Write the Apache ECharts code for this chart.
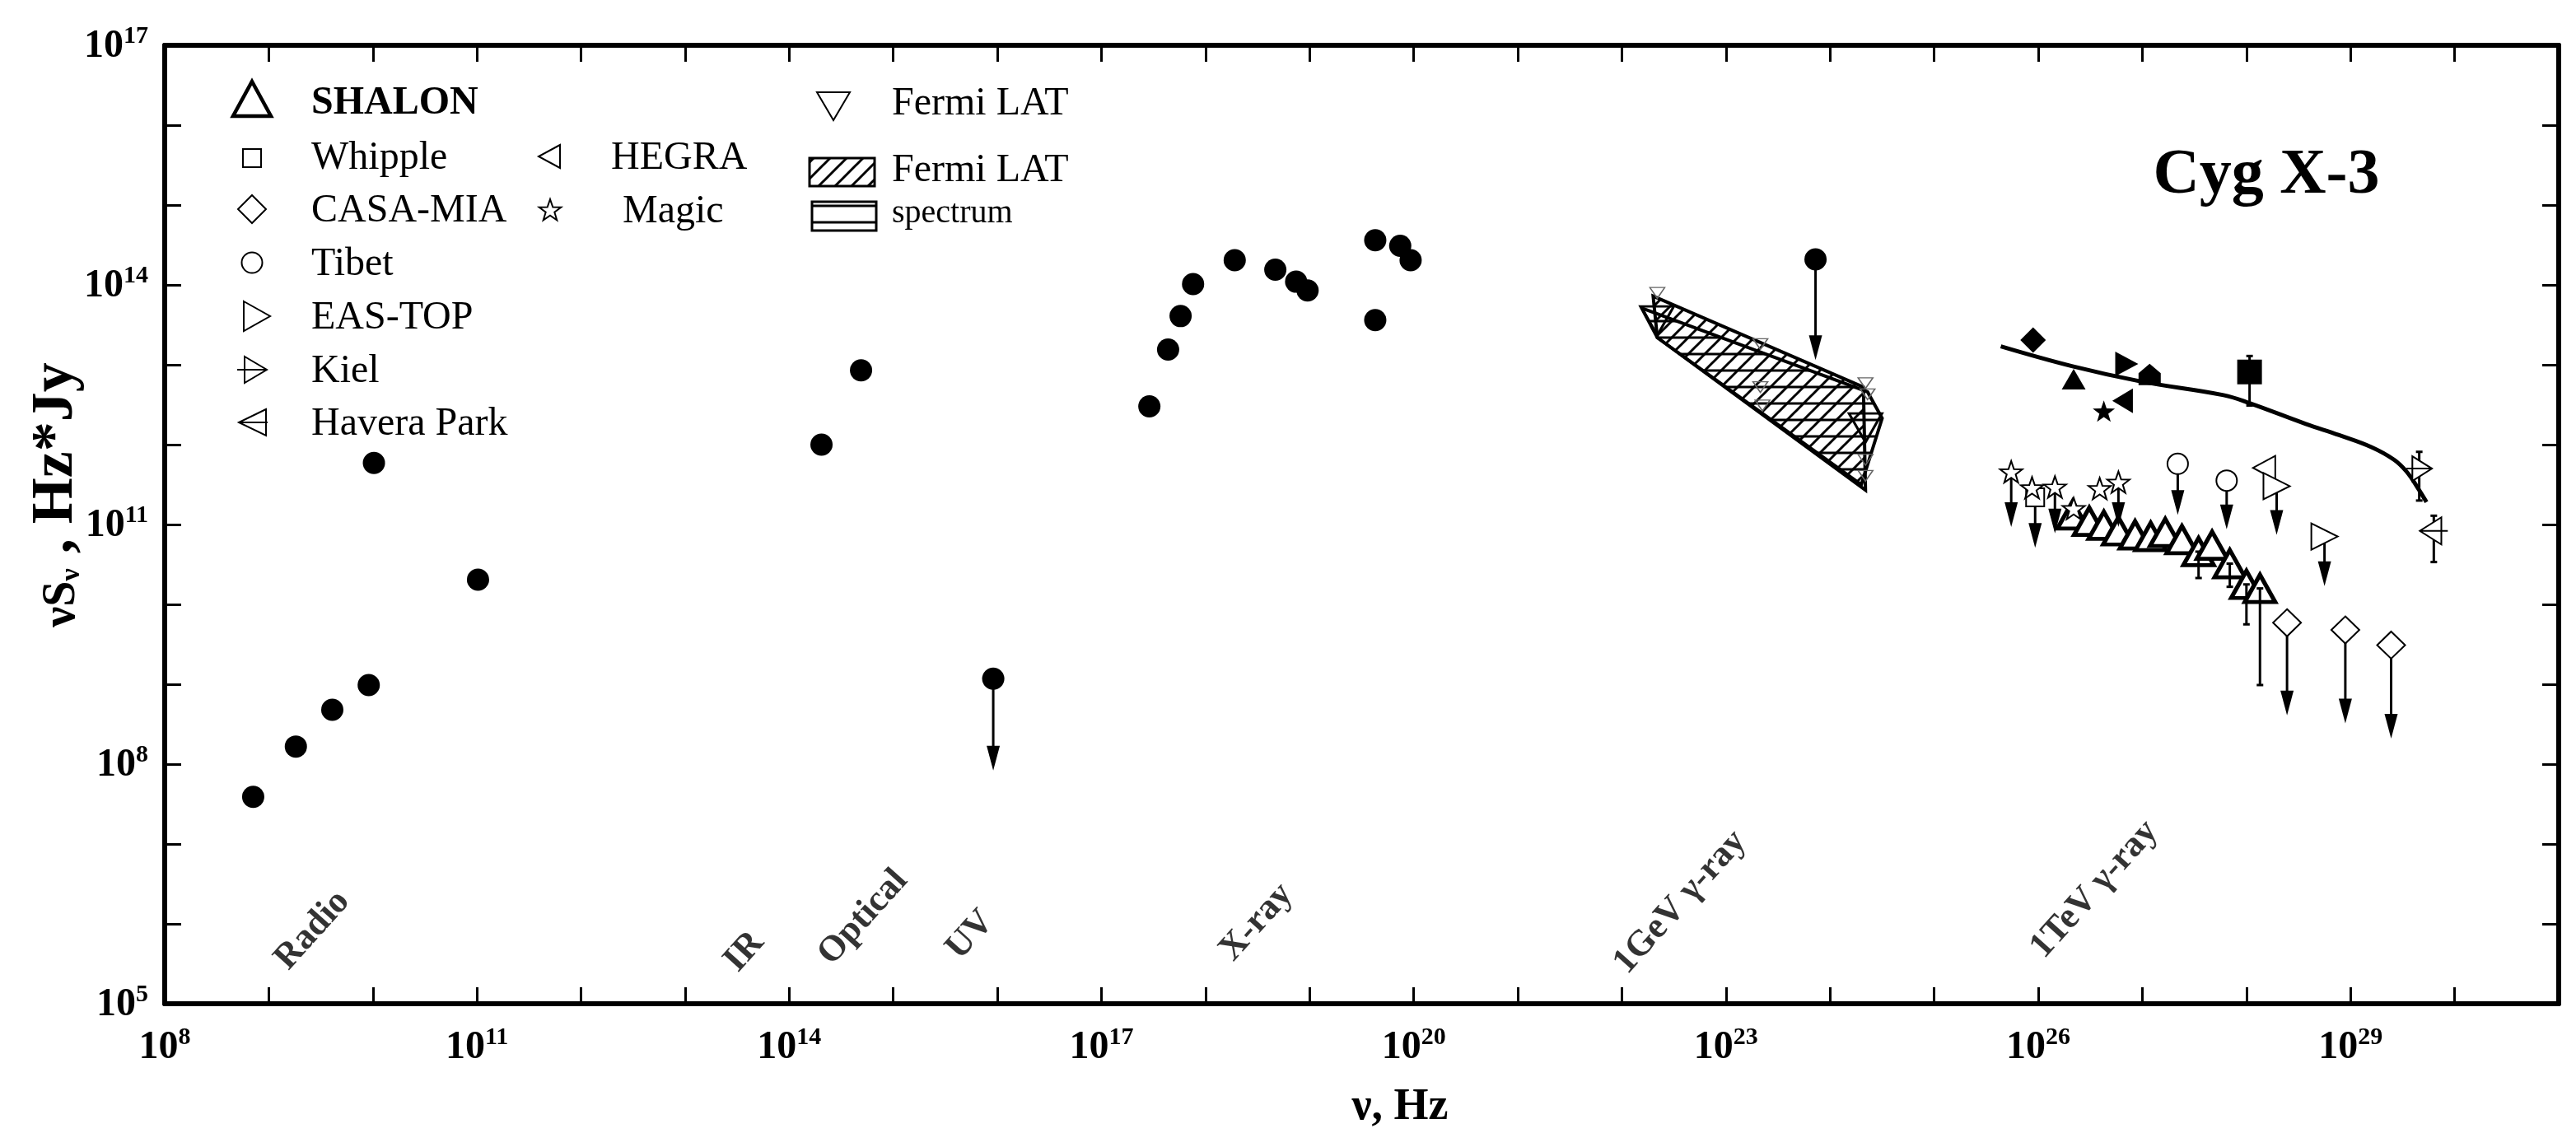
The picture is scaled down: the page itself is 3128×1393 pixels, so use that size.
<!DOCTYPE html>
<html>
<head>
<meta charset="utf-8">
<title>Cyg X-3 SED</title>
<script src="https://cdn.jsdelivr.net/npm/echarts@6/dist/echarts.min.js"></script>
<style>
html, body { margin: 0; padding: 0; background: #fff; }
#sed { width: 3128px; height: 1393px; }
</style>
</head>
<body>
<div id="sed"></div>
<script>
// all values are log10(nu / Hz) and log10(nuS_nu / Hz*Jy)

// radio .. x-ray and the GeV upper limit (filled circles)
var dotNu = [8.85, 9.26, 9.61, 9.96, 10.01, 11.01, 14.31, 14.69, 15.96, 17.46, 17.64, 17.76, 17.88, 18.28, 18.67, 18.87, 18.98, 19.63, 19.63, 19.87, 19.97, 23.86];
var dotFlux = [7.59, 8.22, 8.68, 8.99, 11.77, 10.31, 12.00, 12.93, 9.07, 12.48, 13.19, 13.61, 14.01, 14.31, 14.19, 14.04, 13.93, 14.56, 13.56, 14.49, 14.31, 14.32];

// Fermi LAT
var latBandNu = [22.30, 24.32, 24.34, 22.34];
var latBandFlux = [13.86, 12.72, 11.43, 13.34];
var specBandNu = [22.19, 24.36, 24.50, 24.30, 22.34];
var specBandFlux = [13.71, 12.66, 12.33, 11.50, 13.34];
var fermiNu = [22.34, 23.33, 23.33, 23.35, 24.34, 24.36, 24.34, 24.34];
var fermiFlux = [13.90, 13.26, 12.72, 12.49, 12.77, 12.63, 11.81, 11.61];
var fermiBigNu = [22.34, 24.34];
var fermiBigFlux = [13.55, 12.21];

// TeV model curve
var curveNu = [25.64, 26.33, 26.99, 27.78, 28.03, 28.57, 28.89, 29.20, 29.42, 29.54, 29.65, 29.73];
var curveFlux = [13.23, 12.98, 12.79, 12.62, 12.52, 12.26, 12.12, 11.97, 11.81, 11.66, 11.45, 11.28];

// SHALON
var shalonNu = [26.33, 26.49, 26.63, 26.77, 26.93, 27.08, 27.22, 27.38, 27.54, 27.67, 27.84, 28.00, 28.13];
var shalonFlux = [11.12, 11.04, 10.99, 10.92, 10.87, 10.85, 10.90, 10.81, 10.66, 10.74, 10.51, 10.25, 10.20];
var shalonDetNu = [26.34];
var shalonDetFlux = [12.82];

// other TeV / PeV experiments: detections and upper limits
var whippleDetNu = [28.03], whippleDetFlux = [12.91];
var whippleUlNu = [25.97], whippleUlFlux = [11.34];
var casaDetNu = [25.95], casaDetFlux = [13.31];
var casaUlNu = [28.39, 28.95, 29.39], casaUlFlux = [9.77, 9.68, 9.49];
var tibetDetNu = [27.07], tibetDetFlux = [12.88];
var tibetUlNu = [27.34, 27.81], tibetUlFlux = [11.76, 11.55];
var easDetNu = [26.85], easDetFlux = [13.01];
var easUlNu = [28.29, 28.75], easUlFlux = [11.48, 10.85];
var hegraDetNu = [26.81], hegraDetFlux = [12.55];
var hegraUlNu = [28.17], hegraUlFlux = [11.71];
var magicDetNu = [26.63], magicDetFlux = [12.42];
var magicUlNu = [25.74, 25.94, 26.16, 26.59, 26.77, 26.34];
var magicUlFlux = [11.66, 11.46, 11.47, 11.45, 11.53, 11.20];
var kielNu = [29.66], kielFlux = [11.70];
var haveraNu = [29.80], haveraFlux = [10.92];

// upper-limit arrows: nu, start, tip
var arrowNu = [15.96, 23.86, 25.74, 26.16, 26.77, 25.97, 27.34, 27.81, 28.29, 28.75, 28.39, 28.95, 29.39];
var arrowFrom = [9.07, 14.32, 11.66, 11.47, 11.53, 11.34, 11.76, 11.55, 11.48, 10.85, 9.77, 9.68, 9.49];
var arrowTo = [7.92, 13.06, 10.97, 10.89, 10.97, 10.71, 11.12, 10.94, 10.87, 10.23, 8.61, 8.51, 8.32];

// error bars: nu, low, high
var errNu = [28.03, 29.66, 29.80, 27.54, 27.84, 28.00, 28.13];
var errLo = [12.49, 11.30, 10.53, 10.33, 10.22, 9.75, 8.99];
var errHi = [13.11, 11.91, 11.11, 10.66, 10.51, 10.25, 10.20];

// band names along the bottom
var bandNames = ['Radio', 'IR', 'Optical', 'UV', 'X-ray', '1GeV γ-ray', '1TeV γ-ray'];
var bandNu = [9.42, 13.57, 14.71, 15.74, 18.49, 22.56, 26.54];
var bandFlux = [5.92, 5.65, 6.08, 5.86, 6.02, 6.27, 6.43];

var SERIF = 'Liberation Serif';
var RIGHT = 'path://M0,0L10,5L0,10Z';
var LEFT = 'path://M10,0L0,5L10,10Z';
var DOWN = 'path://M0,0L10,0L5,10Z';
var HOUSE = 'path://M5,0L10,4.5L10,10L0,10L0,4.5Z';
var STAR = 'path://M10,0L12.35,6.76L19.51,6.91L13.8,11.24L15.88,18.09L10,14L4.12,18.09L6.2,11.24L0.49,6.91L7.65,6.76Z';
var KIEL = 'path://M0,0L10,5L0,10Z M-3,5L10,5';
var HAVERA = 'path://M10,0L0,5L10,10Z M0,5L13,5';

function pairs(a, b) {
    return a.map(function (v, i) { return [v, b[i]]; });
}
function triples(a, b, c) {
    return a.map(function (v, i) { return [v, b[i], c[i]]; });
}

function hatch(kind) {
    var c = document.createElement('canvas');
    c.width = 20;
    c.height = 20;
    var g = c.getContext('2d');
    g.strokeStyle = '#000';
    g.lineWidth = 3;
    g.beginPath();
    if (kind === 'diag') {
        g.moveTo(-2, 22); g.lineTo(22, -2);
        g.moveTo(-12, 12); g.lineTo(12, -12);
        g.moveTo(8, 32); g.lineTo(32, 8);
    } else {
        g.moveTo(0, 10); g.lineTo(20, 10);
    }
    g.stroke();
    return { image: c, repeat: 'repeat' };
}
var diagFill = hatch('diag');
var flatFill = hatch('flat');

function scat(nu, flux, symbol, size, filled, bw, z) {
    return {
        type: 'scatter',
        silent: true,
        z: z || 5,
        symbol: symbol,
        symbolSize: size,
        data: pairs(nu, flux),
        itemStyle: filled
            ? { color: '#000', opacity: 1 }
            : { color: '#fff', borderColor: '#000', borderWidth: bw || 2, opacity: 1 }
    };
}

function band(nu, flux, fill) {
    return {
        type: 'custom',
        silent: true,
        z: 1,
        data: [[nu[0], flux[0]]],
        renderItem: function (params, api) {
            var pts = nu.map(function (v, i) { return api.coord([v, flux[i]]); });
            return { type: 'polygon', shape: { points: pts }, style: { fill: fill, stroke: '#000', lineWidth: 4 } };
        }
    };
}

function supLabel(first, every) {
    return {
        margin: every === 'x' ? 26 : 20,
        showMinLabel: true,
        showMaxLabel: true,
        formatter: function (v) {
            return (v - first) % 3 === 0 ? '{b|10}{s|' + v + '}' : '';
        },
        rich: {
            b: { fontFamily: SERIF, fontWeight: 'bold', fontSize: 48, lineHeight: 52, verticalAlign: 'bottom', color: '#000' },
            s: { fontFamily: SERIF, fontWeight: 'bold', fontSize: 30, lineHeight: 30, verticalAlign: 'top', color: '#000' }
        }
    };
}

function axis(min, max, pos, label) {
    return {
        type: 'value',
        min: min,
        max: max,
        interval: 1,
        position: pos,
        axisLine: { show: true, onZero: false, lineStyle: { color: '#000', width: 6 } },
        axisTick: { show: true, inside: true, length: 20, lineStyle: { color: '#000', width: 3 } },
        axisLabel: label || { show: false },
        splitLine: { show: false }
    };
}

function starPoints(cx, cy, r) {
    var pts = [];
    for (var k = 0; k < 10; k++) {
        var a = (-90 + 36 * k) * Math.PI / 180;
        var rr = k % 2 ? r * 0.4 : r;
        pts.push([cx + rr * Math.cos(a), cy + rr * Math.sin(a)]);
    }
    return pts;
}

function txt(x, y, s, size, bold) {
    return {
        type: 'text', x: x, y: y, z: 10,
        style: { text: s, fontFamily: SERIF, fontSize: size, fontWeight: bold ? 'bold' : 'normal', fill: '#000', textVerticalAlign: 'middle' }
    };
}
function poly(points, lw) {
    return { type: 'polygon', z: 10, shape: { points: points }, style: { fill: '#fff', stroke: '#000', lineWidth: lw || 2 } };
}
function seg(x1, y1, x2, y2) {
    return { type: 'line', z: 10, shape: { x1: x1, y1: y1, x2: x2, y2: y2 }, style: { stroke: '#000', lineWidth: 2 } };
}

var legend = [
    poly([[306, 99], [329, 141], [283, 141]], 4.5),
    txt(378, 126, 'SHALON', 48, true),
    { type: 'rect', z: 10, shape: { x: 295, y: 181, width: 22, height: 22 }, style: { fill: '#fff', stroke: '#000', lineWidth: 2 } },
    txt(378, 192, 'Whipple', 48),
    poly([[306, 237], [323, 254], [306, 271], [289, 254]]),
    txt(378, 256, 'CASA-MIA', 48),
    { type: 'circle', z: 10, shape: { cx: 306, cy: 319, r: 12.5 }, style: { fill: '#fff', stroke: '#000', lineWidth: 2 } },
    txt(378, 321, 'Tibet', 48),
    poly([[296, 366], [328, 384], [296, 402]]),
    txt(378, 386, 'EAS-TOP', 48),
    poly([[297, 433], [324, 449], [297, 465]]),
    seg(288, 449, 324, 449),
    txt(378, 451, 'Kiel', 48),
    poly([[323, 497], [290, 513], [323, 529]]),
    seg(290, 513, 325, 513),
    txt(378, 515, 'Havera Park', 48),
    poly([[680, 176], [654, 190], [680, 204]]),
    txt(742, 192, 'HEGRA', 48),
    poly(starPoints(668, 256, 14)),
    txt(756, 257, 'Magic', 48),
    poly([[992, 112], [1032, 112], [1012, 146]]),
    txt(1083, 126, 'Fermi LAT', 48),
    { type: 'rect', z: 10, shape: { x: 983, y: 192, width: 79, height: 34 }, style: { fill: diagFill, stroke: '#000', lineWidth: 3 } },
    txt(1083, 207, 'Fermi LAT', 48),
    { type: 'rect', z: 10, shape: { x: 986, y: 245, width: 78, height: 35 }, style: { fill: flatFill, stroke: '#000', lineWidth: 3 } },
    txt(1083, 259, 'spectrum', 40),
    {
        type: 'text', z: 10, x: 2752, y: 214,
        style: { text: 'Cyg X-3', fontFamily: SERIF, fontSize: 78, fontWeight: 'bold', fill: '#000', textAlign: 'center', textVerticalAlign: 'middle' }
    },
    {
        type: 'text', z: 10, x: 1700, y: 1345,
        style: { text: 'ν, Hz', fontFamily: SERIF, fontSize: 54, fontWeight: 'bold', fill: '#000', textAlign: 'center', textVerticalAlign: 'middle' }
    },
    {
        type: 'text', z: 10, x: 64, y: 601, rotation: Math.PI / 2,
        style: {
            text: '{a|νS}{b|ν}{c| , Hz*Jy}',
            textAlign: 'center',
            textVerticalAlign: 'middle',
            rich: {
                a: { fontFamily: SERIF, fontWeight: 'bold', fontSize: 56, lineHeight: 62, verticalAlign: 'bottom', fill: '#000' },
                b: { fontFamily: SERIF, fontWeight: 'bold', fontSize: 34, lineHeight: 26, verticalAlign: 'bottom', fill: '#000' },
                c: { fontFamily: SERIF, fontWeight: 'bold', fontSize: 72, lineHeight: 80, verticalAlign: 'bottom', fill: '#000' }
            }
        }
    }
];

var sedChart = echarts.init(document.getElementById('sed'));
var option = {
    animation: false,
    backgroundColor: '#fff',
    grid: { left: 200, right: 21, top: 55, bottom: 174 },
    xAxis: [axis(8, 31, 'bottom', supLabel(8, 'x')), axis(8, 31, 'top')],
    yAxis: [axis(5, 17, 'left', supLabel(5, 'y')), axis(5, 17, 'right')],
    graphic: legend,
    series: [
        band(specBandNu, specBandFlux, flatFill),
        band(latBandNu, latBandFlux, diagFill),
        {
            type: 'scatter', silent: true, z: 3, symbol: DOWN, symbolSize: [18, 13],
            data: pairs(fermiNu, fermiFlux),
            itemStyle: { color: 'rgba(255,255,255,0)', borderColor: '#666', borderWidth: 1.5, opacity: 1 }
        },
        {
            type: 'scatter', silent: true, z: 3, symbol: DOWN, symbolSize: [40, 35],
            data: pairs(fermiBigNu, fermiBigFlux),
            itemStyle: { color: 'rgba(255,255,255,0)', borderColor: '#000', borderWidth: 3, opacity: 1 }
        },
        {
            type: 'line', silent: true, z: 3, smooth: 0.4, symbol: 'none',
            data: pairs(curveNu, curveFlux),
            lineStyle: { color: '#000', width: 5 }
        },
        // SHALON open triangles
        scat(shalonNu, shalonFlux, 'triangle', [37, 33], false, 5, 3),
        {
            type: 'custom', silent: true, z: 4,
            data: triples(errNu, errLo, errHi),
            encode: { x: 0, y: [1, 2] },
            renderItem: function (params, api) {
                var lo = api.coord([api.value(0), api.value(1)]);
                var hi = api.coord([api.value(0), api.value(2)]);
                var st = { stroke: '#000', lineWidth: 3 };
                return {
                    type: 'group',
                    children: [
                        { type: 'line', shape: { x1: lo[0], y1: lo[1], x2: hi[0], y2: hi[1] }, style: st },
                        { type: 'line', shape: { x1: lo[0] - 4, y1: lo[1], x2: lo[0] + 4, y2: lo[1] }, style: st },
                        { type: 'line', shape: { x1: hi[0] - 4, y1: hi[1], x2: hi[0] + 4, y2: hi[1] }, style: st }
                    ]
                };
            }
        },
        {
            type: 'custom', silent: true, z: 4,
            data: triples(arrowNu, arrowFrom, arrowTo),
            encode: { x: 0, y: [1, 2] },
            renderItem: function (params, api) {
                var a = api.coord([api.value(0), api.value(1)]);
                var b = api.coord([api.value(0), api.value(2)]);
                return {
                    type: 'group',
                    children: [
                        { type: 'line', shape: { x1: a[0], y1: a[1], x2: b[0], y2: b[1] - 20 }, style: { stroke: '#000', lineWidth: 3 } },
                        { type: 'polygon', shape: { points: [[b[0] - 8, b[1] - 30], [b[0] + 8, b[1] - 30], [b[0], b[1]]] }, style: { fill: '#000' } }
                    ]
                };
            }
        },
        scat(dotNu, dotFlux, 'circle', 27, true),
        // detections
        scat(casaDetNu, casaDetFlux, 'diamond', 31, true),
        scat(shalonDetNu, shalonDetFlux, 'triangle', [29, 25], true),
        scat(easDetNu, easDetFlux, RIGHT, [28, 30], true),
        scat(tibetDetNu, tibetDetFlux, HOUSE, [27, 26], true),
        scat(whippleDetNu, whippleDetFlux, 'rect', 30, true),
        scat(hegraDetNu, hegraDetFlux, LEFT, [25, 30], true),
        scat(magicDetNu, magicDetFlux, STAR, [27, 26], true),
        // upper limits and open points
        scat(whippleUlNu, whippleUlFlux, 'rect', 22, false, 2),
        scat(magicUlNu, magicUlFlux, STAR, [27, 26], false, 2),
        scat(tibetUlNu, tibetUlFlux, 'circle', [25, 25], false, 2),
        scat(hegraUlNu, hegraUlFlux, LEFT, [27, 29], false, 2),
        scat(easUlNu, easUlFlux, RIGHT, [32, 32], false, 2),
        scat(casaUlNu, casaUlFlux, 'diamond', [34, 33], false, 2),
        scat(kielNu, kielFlux, KIEL, [31, 30], false, 2),
        scat(haveraNu, haveraFlux, HAVERA, [34, 33], false, 2),
        {
            type: 'scatter', silent: true, z: 6, symbolSize: 1,
            itemStyle: { color: 'rgba(0,0,0,0)' },
            data: bandNames.map(function (n, i) { return { name: n, value: [bandNu[i], bandFlux[i]] }; }),
            label: {
                show: true, position: 'inside', formatter: '{b}', rotate: 48,
                fontFamily: SERIF, fontWeight: 'bold', fontSize: 44, color: '#000'
            }
        }
    ]
};
sedChart.setOption(option);
window.onresize = sedChart.resize;
</script>
</body>
</html>
